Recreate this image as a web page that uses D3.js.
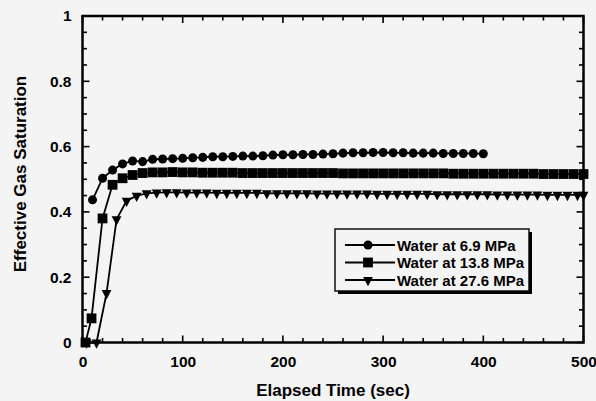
<!DOCTYPE html>
<html>
<head>
<meta charset="utf-8">
<script src="https://cdn.jsdelivr.net/npm/d3@7"></script>
<style>
  html, body { margin: 0; padding: 0; background: #f4f4f4; }
  svg { display: block; }
  text { font-family: "Liberation Sans", Arial, Helvetica, sans-serif; fill: #000; }
</style>
</head>
<body>
<svg id="chart" width="596" height="401"></svg>
<script>
// Effective gas saturation vs. elapsed time for three water pressures

const seriesNames = ["Water at 6.9 MPa", "Water at 13.8 MPa", "Water at 27.6 MPa"];

// 6.9 MPa (circles)
const timeA = [10,20,30,40,50,60,70,80,90,100,110,120,130,140,150,160,170,180,190,200,
               210,220,230,240,250,260,270,280,290,300,310,320,330,340,350,360,370,380,390,400];
const satA  = [0.437,0.503,0.528,0.547,0.556,0.554,0.561,0.562,0.563,0.564,0.566,0.567,0.569,0.569,0.570,0.571,0.571,0.572,0.574,0.575,
               0.575,0.576,0.576,0.577,0.578,0.580,0.581,0.581,0.582,0.582,0.581,0.581,0.580,0.580,0.580,0.579,0.579,0.579,0.579,0.578];

// 13.8 MPa (squares)
const timeB = [3,9,20,30,40,50,60,70,80,90,100,110,120,130,140,150,160,170,180,190,200,
               210,220,230,240,250,260,270,280,290,300,310,320,330,340,350,360,370,380,390,400,
               410,420,430,440,450,460,470,480,490,500];
const satB  = [0.000,0.074,0.380,0.483,0.503,0.513,0.519,0.521,0.521,0.522,0.521,0.521,0.520,0.520,0.520,0.520,0.519,0.519,0.519,0.519,0.519,
               0.519,0.519,0.519,0.519,0.519,0.518,0.518,0.518,0.518,0.518,0.518,0.518,0.518,0.518,0.518,0.518,0.517,0.517,0.517,0.517,
               0.517,0.517,0.517,0.517,0.517,0.516,0.516,0.516,0.516,0.516];

// 27.6 MPa (triangles)
const timeC = [4,14,24,34,44,54,64,74,84,94,104,114,124,134,144,154,164,174,184,194,
               204,214,224,234,244,254,264,274,284,294,304,314,324,334,344,354,364,374,384,394,
               404,414,424,434,444,454,464,474,484,494,500];
const satC  = [0.000,0.000,0.151,0.377,0.434,0.449,0.457,0.459,0.460,0.460,0.459,0.459,0.459,0.458,0.458,0.458,0.458,0.458,0.457,0.457,
               0.457,0.457,0.457,0.456,0.456,0.456,0.456,0.456,0.456,0.455,0.455,0.455,0.455,0.455,0.455,0.454,0.454,0.454,0.454,0.454,
               0.454,0.453,0.453,0.453,0.453,0.453,0.452,0.452,0.452,0.452,0.452];

const xMajorTicks = [0,100,200,300,400,500];
const yMajorTicks = [0,0.2,0.4,0.6,0.8,1];
const yTickLabels = ["0","0.2","0.4","0.6","0.8","1"];
const xTitle = "Elapsed Time (sec)";
const yTitle = "Effective Gas Saturation";

const svg = d3.select("#chart");
const pLeft = 82.5, pRight = 583.5, pTop = 16, pBottom = 342.5;

const x = d3.scaleLinear().domain([0, 500]).range([pLeft, pRight]);
const y = d3.scaleLinear().domain([0, 1]).range([pBottom, pTop]);

const xMinor = d3.range(0, 501, 20);
const yMinor = d3.range(0, 1.0001, 0.05).map(v => +v.toFixed(2));

// inward ticks on all four sides
function isMajorX(v) { return v % 100 === 0; }
function isMajorY(v) { return Math.abs(v * 5 - Math.round(v * 5)) < 1e-6; }
const tickLen = (major) => major ? 7 : 4.5;

const axisG = svg.append("g");
axisG.selectAll("line.xb").data(xMinor).join("line")
  .attr("x1", d => x(d)).attr("x2", d => x(d))
  .attr("y1", pBottom).attr("y2", d => pBottom - tickLen(isMajorX(d)))
  .attr("stroke", "#000").attr("stroke-width", 1.6);
axisG.selectAll("line.xt").data(xMinor).join("line")
  .attr("x1", d => x(d)).attr("x2", d => x(d))
  .attr("y1", pTop).attr("y2", d => pTop + tickLen(isMajorX(d)))
  .attr("stroke", "#000").attr("stroke-width", 1.6);
axisG.selectAll("line.yl").data(yMinor).join("line")
  .attr("y1", d => y(d)).attr("y2", d => y(d))
  .attr("x1", pLeft).attr("x2", d => pLeft + tickLen(isMajorY(d)))
  .attr("stroke", "#000").attr("stroke-width", 1.6);
axisG.selectAll("line.yr").data(yMinor).join("line")
  .attr("y1", d => y(d)).attr("y2", d => y(d))
  .attr("x1", pRight).attr("x2", d => pRight - tickLen(isMajorY(d)))
  .attr("stroke", "#000").attr("stroke-width", 1.6);

// frame
svg.append("rect")
  .attr("x", pLeft).attr("y", pTop)
  .attr("width", pRight - pLeft).attr("height", pBottom - pTop)
  .attr("fill", "none").attr("stroke", "#000").attr("stroke-width", 2.5);

// tick labels via d3 axes (labels only)
const xAxis = d3.axisBottom(x).tickValues(xMajorTicks).tickSize(0).tickPadding(13).tickFormat(d3.format("d"));
const gx = svg.append("g").attr("transform", `translate(0,${pBottom})`).call(xAxis);
gx.select(".domain").remove();
gx.selectAll("text").attr("font-size", 15.5).attr("font-weight", "bold")
  .style("font-family", '"Liberation Sans", Arial, sans-serif');

const yAxis = d3.axisLeft(y).tickValues(yMajorTicks).tickSize(0).tickPadding(11)
  .tickFormat((d, i) => yTickLabels[i]);
const gy = svg.append("g").attr("transform", `translate(${pLeft},0)`).call(yAxis);
gy.select(".domain").remove();
gy.selectAll("text").attr("font-size", 15.5).attr("font-weight", "bold")
  .style("font-family", '"Liberation Sans", Arial, sans-serif');

// titles
svg.append("text")
  .attr("x", 333).attr("y", 396)
  .attr("text-anchor", "middle")
  .attr("font-size", 17).attr("font-weight", "bold")
  .text(xTitle);
svg.append("text")
  .attr("transform", "translate(26,174) rotate(-90)")
  .attr("text-anchor", "middle")
  .attr("font-size", 17).attr("font-weight", "bold")
  .text(yTitle);

// series
const line = d3.line().x(d => x(d[0])).y(d => y(d[1]));
const dataA = timeA.map((t, i) => [t, satA[i]]);
const dataB = timeB.map((t, i) => [t, satB[i]]);
const dataC = timeC.map((t, i) => [t, satC[i]]);

const plot = svg.append("g");
[dataA, dataB, dataC].forEach(d => {
  plot.append("path").datum(d).attr("d", line)
    .attr("fill", "none").attr("stroke", "#000").attr("stroke-width", 1.8);
});

const circleSym = d3.symbol().type(d3.symbolCircle).size(64);
const squareSym = d3.symbol().type(d3.symbolSquare).size(96);
// downward triangle, apex at the bottom
function triDown(s) {
  const h = s * 0.95, w = s;
  return `M${-w/2},${-h/3}L${w/2},${-h/3}L0,${2*h/3}Z`;
}

plot.selectAll("path.ma").data(dataA).join("path")
  .attr("transform", d => `translate(${x(d[0])},${y(d[1])})`)
  .attr("d", circleSym()).attr("fill", "#000");
plot.selectAll("path.mb").data(dataB).join("path")
  .attr("transform", d => `translate(${x(d[0])},${y(d[1])})`)
  .attr("d", squareSym()).attr("fill", "#000");
plot.selectAll("path.mc").data(dataC).join("path")
  .attr("transform", d => `translate(${x(d[0])},${y(d[1])})`)
  .attr("d", triDown(9.8)).attr("fill", "#000");

// legend with drop shadow
const lg = svg.append("g").attr("transform", "translate(335,229)");
const lw = 194, lh = 62;
lg.append("rect").attr("x", 3).attr("y", 3).attr("width", lw).attr("height", lh).attr("fill", "#000");
lg.append("rect").attr("x", 0).attr("y", 0).attr("width", lw).attr("height", lh)
  .attr("fill", "#f4f4f4").attr("stroke", "#000").attr("stroke-width", 1.4);

const markers = [circleSym(), squareSym(), triDown(9.8)];
seriesNames.forEach((name, i) => {
  const cy = 16 + i * 17.5;
  lg.append("line").attr("x1", 10).attr("x2", 60).attr("y1", cy).attr("y2", cy)
    .attr("stroke", "#000").attr("stroke-width", 1.8);
  lg.append("path").attr("transform", `translate(33,${cy})`).attr("d", markers[i]).attr("fill", "#000");
  lg.append("text").attr("x", 62).attr("y", cy + 5.5)
    .attr("font-size", 15).attr("font-weight", "bold").text(name);
});
</script>
</body>
</html>
